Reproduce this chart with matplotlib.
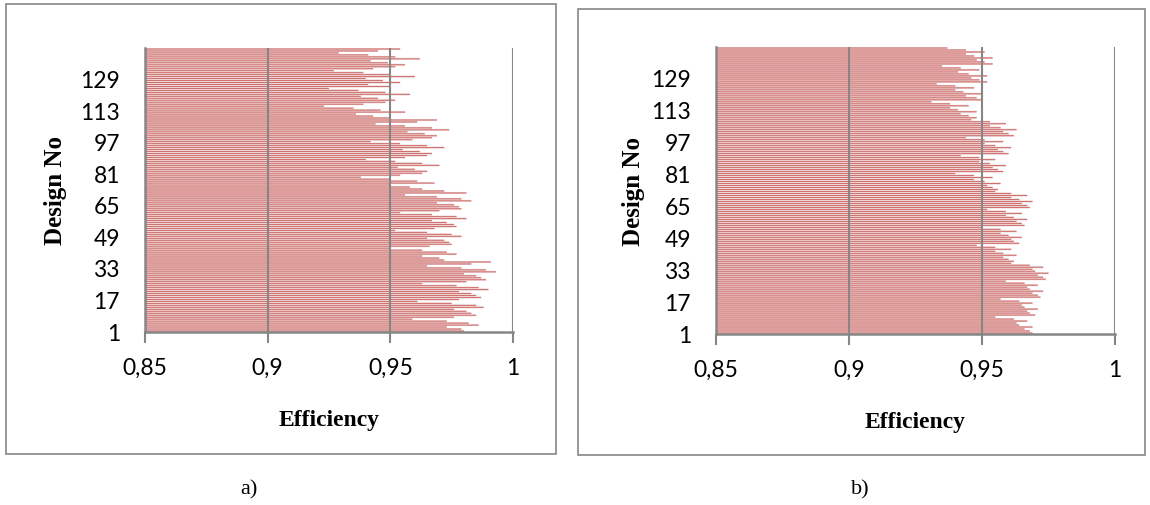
import matplotlib
matplotlib.use("Agg")
import matplotlib.pyplot as plt
from matplotlib.patches import Rectangle
from matplotlib.ticker import FuncFormatter
import numpy as np

# Efficiency per design, listed from design 144 (top) down to design 1
eff_a = [
    0.954, 0.945,
    0.929, 0.941, 0.952, 0.962, 0.942, 0.949, 0.956, 0.952, 0.943,
    0.927, 0.939, 0.950, 0.960, 0.940, 0.947, 0.954, 0.941, 0.950,
    0.925, 0.937, 0.948, 0.958, 0.938, 0.945, 0.952, 0.948, 0.939,
    0.923, 0.935, 0.946, 0.956, 0.936, 0.943, 0.950, 0.969, 0.961,
    0.944, 0.956, 0.967, 0.974, 0.957, 0.964, 0.969, 0.967, 0.959,
    0.942, 0.954, 0.965, 0.972, 0.955, 0.962, 0.967, 0.965, 0.956,
    0.940, 0.952, 0.963, 0.970, 0.953, 0.960, 0.965, 0.963, 0.954,
    0.938, 0.950, 0.961, 0.968, 0.950, 0.958, 0.963, 0.972, 0.981,
    0.956, 0.969, 0.979, 0.983, 0.969, 0.976, 0.978, 0.979, 0.970,
    0.954, 0.967, 0.977, 0.981, 0.967, 0.973, 0.976, 0.977, 0.968,
    0.952, 0.965, 0.975, 0.979, 0.965, 0.972, 0.974, 0.975, 0.966,
    0.950, 0.963, 0.973, 0.977, 0.963, 0.970, 0.972, 0.991, 0.983,
    0.965, 0.979, 0.989, 0.993, 0.980, 0.985, 0.987, 0.989, 0.981,
    0.963, 0.977, 0.986, 0.990, 0.978, 0.983, 0.985, 0.987, 0.978,
    0.961, 0.975, 0.985, 0.988, 0.976, 0.981, 0.983, 0.985, 0.976,
    0.959, 0.973, 0.982, 0.986, 0.973, 0.979, 0.980,
]

eff_b = [
    0.937, 0.944, 0.951, 0.944, 0.947, 0.954, 0.948, 0.951, 0.954,
    0.935, 0.942, 0.949, 0.941, 0.945, 0.952, 0.946, 0.949, 0.952,
    0.933, 0.940, 0.947, 0.940, 0.943, 0.950, 0.944, 0.948, 0.950,
    0.931, 0.938, 0.945, 0.938, 0.941, 0.948, 0.942, 0.945, 0.948,
    0.946, 0.953, 0.959, 0.953, 0.957, 0.963, 0.958, 0.960, 0.962,
    0.944, 0.951, 0.958, 0.951, 0.955, 0.961, 0.956, 0.958, 0.960,
    0.942, 0.949, 0.955, 0.949, 0.953, 0.959, 0.954, 0.956, 0.958,
    0.940, 0.947, 0.954, 0.947, 0.951, 0.957, 0.952, 0.954, 0.956,
    0.955, 0.961, 0.967, 0.961, 0.964, 0.969, 0.965, 0.967, 0.968,
    0.952, 0.959, 0.965, 0.959, 0.962, 0.967, 0.963, 0.965, 0.966,
    0.950, 0.957, 0.963, 0.957, 0.960, 0.965, 0.961, 0.962, 0.964,
    0.948, 0.955, 0.961, 0.955, 0.958, 0.963, 0.958, 0.960, 0.962,
    0.961, 0.968, 0.973, 0.969, 0.970, 0.975, 0.971, 0.973, 0.974,
    0.959, 0.966, 0.971, 0.967, 0.968, 0.973, 0.969, 0.971, 0.972,
    0.957, 0.964, 0.969, 0.965, 0.966, 0.971, 0.967, 0.968, 0.970,
    0.955, 0.962, 0.967, 0.963, 0.964, 0.969, 0.966, 0.968, 0.969,
]

designs = np.arange(len(eff_a), 0, -1)   # 144 ... 1
y_ticks = [1, 17, 33, 49, 65, 81, 97, 113, 129]
x_ticks = [0.85, 0.9, 0.95, 1.0]
x_min, x_max = 0.85, 1.0

W, H = 1150, 506
fig = plt.figure(figsize=(W / 100, H / 100), dpi=100)
fig.patch.set_facecolor('white')

GREY = '#868686'
DARK = '#C0504D'
LIGHT = '#EDC8C7'


def px(x0, y0, x1, y1):
    # pixel box (top-left origin) -> figure fraction rect
    return [x0 / W, 1 - y1 / H, (x1 - x0) / W, (y1 - y0) / H]


def comma(v, pos):
    return f'{v:g}'.replace('.', ',')


def panel(box, ax_rect, values, caption, cap_xy, ylab_x):
    # outer frame of the chart object
    fig.patches.append(Rectangle((box[0], box[1]), box[2], box[3], transform=fig.transFigure,
                                 facecolor='none', edgecolor=GREY, linewidth=1.2))
    ax = fig.add_axes(ax_rect)
    vals = np.array(values)
    base = x_min
    # pale body + darker core, like the gradient-filled Excel bars
    b1 = ax.barh(designs, vals - base, left=base, height=1.0, color=LIGHT, linewidth=0)
    b2 = ax.barh(designs, vals - base, left=base, height=0.45, color=DARK, linewidth=0, alpha=0.78)
    for r in list(b1) + list(b2):
        r.set_snap(False)

    ax.set_xlim(x_min, x_max)
    ax.set_ylim(0.5, len(values) + 0.5)
    ax.set_xticks(x_ticks)
    ax.xaxis.set_major_formatter(FuncFormatter(comma))
    ax.set_yticks(y_ticks)
    for x in x_ticks[1:]:
        ax.axvline(x, color=GREY, linewidth=1.5, zorder=3)
    for s in ['top', 'right']:
        ax.spines[s].set_visible(False)
    for s in ['left', 'bottom']:
        ax.spines[s].set_color(GREY)
        ax.spines[s].set_linewidth(1.8)
        ax.spines[s].set_zorder(4)
    ax.tick_params(axis='x', length=8, width=1.5, color=GREY, pad=10,
                   labelsize=16.5, direction='out')
    ax.tick_params(axis='y', length=0, pad=18, labelsize=16.5)
    for lab in ax.get_xticklabels() + ax.get_yticklabels():
        lab.set_family('Lato')

    ax.set_xlabel('Efficiency', family='Liberation Serif', fontweight='bold',
                  fontsize=17, labelpad=22)
    ax.set_ylabel('Design No', family='Liberation Serif', fontweight='bold',
                  fontsize=18)
    ax.yaxis.set_label_coords(ylab_x, 0.5)
    fig.text(cap_xy[0] / W, 1 - cap_xy[1] / H, caption, family='Liberation Serif',
             fontsize=16, ha='center', va='center')
    return ax


panel(px(6, 5, 556, 455), px(145, 49, 513, 333), eff_a, 'a)', (249, 490), -0.212)
panel(px(578, 10, 1145, 456), px(716, 48, 1115, 335), eff_b, 'b)', (860, 490), -0.178)

plt.savefig('out.png', dpi=100, facecolor='white')
